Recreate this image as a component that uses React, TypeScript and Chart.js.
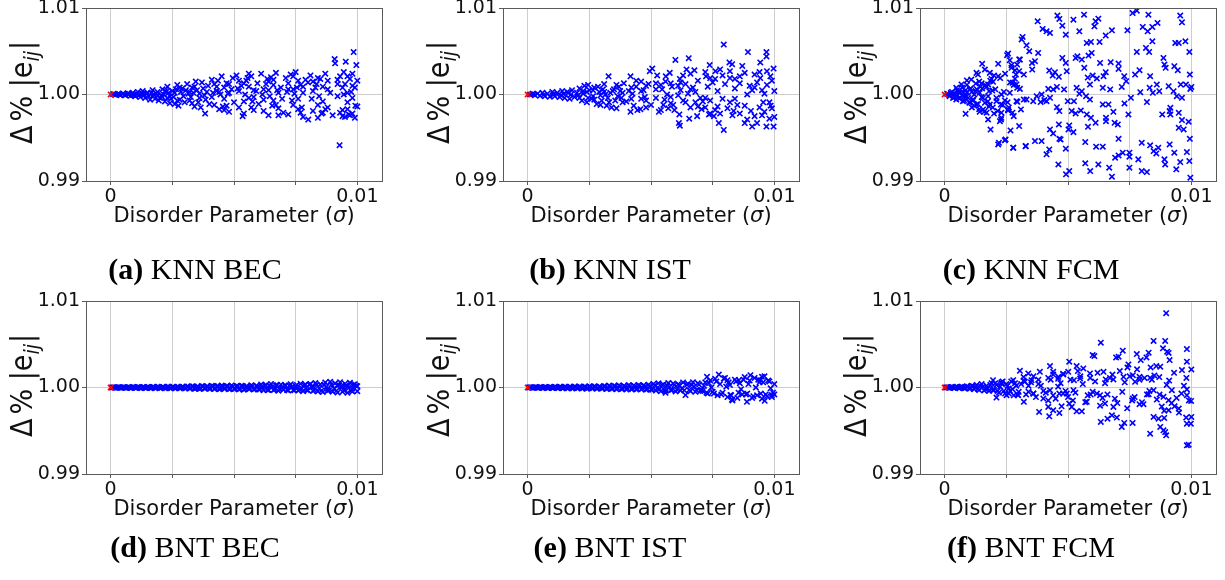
import React, { useEffect, useRef } from "react";
import { Chart, registerables } from "chart.js";
Chart.register(...registerables);

type Pt = [number, number];

// ---------- axis / tick content ----------
const xTickValues = [0, 0.0025, 0.005, 0.0075, 0.01];
const xTickLabels = ["0", "", "", "", "0.01"];
const yTickValues = [0.99, 1.0, 1.01];
const yTickLabels = ["0.99", "1.00", "1.01"];
const referencePoint: Pt = [0, 1.0];

// ---------- data (sigma, Δ% |e_ij|) ----------
const knnBEC: Pt[] = [
  [.0001,1.00005],[.0002,.99997],[.0003,1.0001],[.0004,.99992],[.0005,1.00012],[.0006,.9999],[.0007,1.00015],[.0008,.99985],[.0009,1.0002],[.001,.9998],
  [.00015,1.0],[.00035,1.00003],[.00055,.99996],[.00075,1.00005],[.00095,.99995],
  [.0011,1.0003],[.0012,.9997],[.0013,1.0004],[.0014,.9996],[.0015,1.0002],[.0016,.9994],[.0017,1.0005],[.0018,.9995],[.0019,1.0003],[.002,.9996],
  [.00125,1.0001],[.00155,.9998],[.00175,1.0],[.00195,.9993],[.00115,.9999],[.00145,1.0001],[.00185,1.0001],
  [.0021,1.0006],[.0022,.9992],[.0023,1.0009],[.0024,.999],[.0025,1.0004],[.0026,.9989],[.0027,1.0011],[.0028,.9994],[.0029,1.0007],[.003,.9991],
  [.00215,1.0],[.00235,1.0002],[.00255,.9997],[.00275,.9987],[.00285,1.0003],[.0024,.9998],
  [.0031,1.0012],[.0032,.9993],[.0033,1.0008],[.0034,.9986],[.0035,1.0005],[.0036,.9996],[.0037,1.0014],[.00383,.9978],[.0039,1.0003],[.004,.9989],
  [.00315,1.0001],[.00345,1.0015],[.00365,.9985],[.00395,1.001],
  [.0041,1.0017],[.0042,.9988],[.0043,1.0009],[.0044,.9983],[.0045,1.0021],[.0046,.9995],[.0047,1.0013],[.0048,.998],[.0049,1.0006],[.005,.9991],
  [.00415,1.0002],[.00435,1.0016],[.00455,.9986],[.00475,1.0001],[.00495,1.0019],
  [.0051,1.0022],[.0052,.9985],[.0053,1.001],[.0054,.9978],[.0055,1.0016],[.0056,.9996],[.0057,1.0021],[.0058,.9982],[.0059,1.0004],[.006,.9989],
  [.00515,1.0007],[.00535,.9975],[.00555,1.0019],[.00575,.9992],[.00595,1.0013],
  [.0061,1.0024],[.0062,.9981],[.0063,1.0012],[.0064,.9976],[.0065,1.002],[.0066,.9993],[.0067,1.0025],[.0068,.9984],[.0069,1.0008],[.007,.9979],
  [.00615,1.0],[.00635,1.0018],[.00655,.9987],[.00675,1.0005],[.00695,.9995],
  [.0071,1.0019],[.0072,.9977],[.0073,1.0023],[.0074,.9988],[.0075,1.0026],[.0076,.9983],[.0077,1.0011],[.0078,.9974],[.00801,.9971],[.0079,1.0017],
  [.00715,1.0003],[.00735,.9993],[.00755,1.0008],[.00775,.9985],[.008,1.0014],
  [.0081,1.0022],[.0082,.9981],[.0083,1.0008],[.0084,.9973],[.0085,1.0018],[.0086,.9992],[.0087,1.0024],[.0088,.9985],[.0089,1.0002],[.009,.9976],
  [.00815,.9995],[.00835,1.0012],[.00855,.9978],[.0091,1.0036],[.00908,1.0041],
  [.00928,.99414],[.00953,1.0038],[.00985,1.0049],[.00996,1.0034],[.0092,.9998],[.0093,1.0021],[.0094,.9975],[.0095,1.0012],[.0096,.9983],
  [.0097,1.0018],[.0098,.9978],[.0099,1.0008],[.01,.9986],[.00945,1.0026],[.00965,.9977],[.00975,1.0003],[.00992,.9987],[.0096,1.0002],[.0098,1.001],
  [.00105,1.0001],[.00135,.9999],[.00165,1.0002],[.00205,.9999],[.00225,1.0003],[.00245,.9995],[.00265,1.0006],[.00295,.9998],[.00305,1.0005],[.00325,.9997],
  [.00335,1.0002],[.00355,.9991],[.00375,1.0007],[.00385,.9994],[.0021,.9997],[.0023,.9996],[.0026,1.0002],[.0028,1.0008],[.0032,1.0003],[.0034,1.0009],
  [.0036,1.0001],[.0038,.9999],[.0022,1.0004],[.0027,.9993],[.0033,.999],[.0019,.9999],[.0017,.9998],[.0013,1.0001],[.0009,.99995],[.0007,1.00005],
  [.0041,.9997],[.0043,1.0004],[.0046,1.0008],[.0048,1.0012],[.0052,1.0004],[.0054,1.0013],[.0056,1.0009],[.0058,1.0005],[.0062,1.0006],[.0064,1.0015],
  [.0066,1.0011],[.0068,1.0002],[.0072,1.0013],[.0074,1.0006],[.0076,.9995],[.0078,1.0009],[.0082,1.0015],[.0084,.9988],[.0086,1.0009],[.0088,1.0016],
  [.0092,1.0012],[.0094,.9982],[.0096,1.0021],[.0098,.9996],[.00445,1.0],[.00545,1.0],[.00645,.9998],[.00745,1.0001],[.00845,.9998],[.00945,1.0],
  [.0047,.9987],[.0057,.9985],[.0067,.9988],[.0077,.9979],[.0087,.9983],[.0097,.9976],[.0099,.9973],[.0095,.9974],[.0093,.9979],
  [.0042,1.0012],[.0044,1.0003],[.0046,.9982],[.0048,1.0002],[.0052,1.0016],[.0054,.9992],[.0056,1.0024],[.0058,.9997],[.0062,.9994],[.0064,1.0005],
  [.0066,1.0017],[.0068,.9976],[.0072,1.0006],[.0074,1.0021],[.0076,1.0016],[.0078,1.0002],[.0082,1.0004],[.0084,1.0019],[.0086,.9979],[.0088,1.0006],
  [.0092,1.0017],[.0094,1.0008],[.0096,.9991],[.0098,1.0024],[.01,1.0016]
];

const knnIST: Pt[] = [
  [.0001,1.0],[.0002,1.0001],[.0003,.9999],[.0004,1.0001],[.0005,.99985],[.0006,1.0002],[.0007,.9998],[.0008,1.0001],[.0009,.99975],[.001,1.0003],
  [.0011,.9998],[.0012,1.0002],[.0013,.9997],[.0014,1.0004],[.0015,.9996],[.0016,1.0003],[.0017,.9995],[.0018,1.0005],[.0019,.9997],[.002,1.0002],
  [.00025,1.00002],[.00065,.99998],[.00105,1.0],[.00145,1.00005],[.00175,.99998],
  [.0021,1.0007],[.0022,.9993],[.0023,1.001],[.0024,.9991],[.0025,1.0005],[.0026,.9995],[.0027,1.0008],[.0028,.9989],[.0029,1.0003],[.003,.9993],
  [.00225,1.0001],[.00245,1.0011],[.00265,.9998],[.00285,1.0009],[.00295,.9988],
  [.0031,1.0012],[.0032,.9987],[.00328,1.0021],[.0034,.9985],[.0035,1.0006],[.0036,.9984],[.0037,1.0009],[.0038,.9996],[.0039,1.0013],[.004,.9992],
  [.00315,1.0],[.00345,1.0004],[.00365,.9998],[.00385,1.0002],
  [.00417,1.0021],[.00417,.998],[.0042,1.0008],[.0043,.9987],[.00445,.9982],[.0046,1.0015],[.00457,.9983],[.0047,1.0005],[.0048,.9993],[.0049,1.0012],
  [.005,.9988],[.00425,1.0001],[.00475,.9997],[.00505,1.003],[.00495,1.0027],
  [.00525,1.0022],[.00532,.998],[.00545,1.0006],[.00559,1.0015],[.00576,1.0025],[.0058,.999],[.00599,1.004],[.0059,.9988],[.00555,.9994],[.00565,1.0],
  [.00585,1.0009],[.00595,.9982],[.0052,.9996],[.0054,1.0011],[.0057,.9984],
  [.00613,.9967],[.00617,.9964],[.00617,1.0018],[.00644,1.0029],[.00653,1.0042],[.00676,1.0028],[.00687,.9975],[.0062,1.0005],[.0063,.9993],[.0064,1.0012],
  [.0066,.9985],[.0067,1.0008],[.0068,.9991],[.0069,1.0016],[.007,.9996],[.0065,1.0001],[.0061,.9999],
  [.00723,1.0021],[.00738,1.0034],[.00761,1.0027],[.00775,.9967],[.0078,1.0029],[.00795,.9959],[.00795,1.00577],[.0071,.9992],[.0072,.9985],[.0073,1.0009],
  [.0074,.9978],[.0075,1.0014],[.0076,.9982],[.0077,1.0004],[.0079,.9995],[.008,1.0012],
  [.00818,1.0037],[.00829,1.0035],[.0088,.9967],[.0087,1.0033],[.00893,1.0049],[.0081,.9984],[.0082,1.0019],[.0083,.9976],[.0084,1.0007],[.0085,.9988],
  [.0086,1.0013],[.0089,.9971],[.009,1.001],[.0091,.9963],[.0089,1.0],
  [.0093,.9967],[.00943,1.0037],[.00943,1.0019],[.00968,1.0049],[.00968,1.0044],[.00968,.9963],[.00984,1.0021],[.00997,1.003],[.00997,.9963],[.01,.9974],
  [.0092,1.0008],[.0094,.9985],[.0095,1.0005],[.0096,.998],[.0097,1.0011],[.0098,.9991],[.0099,1.0016],[.01,1.0004],[.00985,.9987],[.0092,1.0023],
  [.00105,1.0001],[.00135,.9999],[.00165,1.0002],[.00205,.9999],[.00225,1.0004],[.00245,.9996],[.00265,1.0005],[.00295,.9999],[.00305,1.0006],[.00325,.9996],
  [.00335,1.0002],[.00355,.9993],[.00375,1.0004],[.00385,.9991],[.0021,.9996],[.0024,1.0003],[.0027,.9994],[.0031,1.0003],[.0033,.9991],[.0036,1.0011],
  [.0041,1.0004],[.0044,1.0009],[.0046,.9995],[.0048,1.001],[.0052,1.0006],[.0055,.9988],[.0058,1.0013],[.0061,1.001],[.0063,1.0022],[.0066,1.0006],
  [.0069,.9986],[.0072,.9996],[.0074,1.0019],[.0077,.9986],[.0079,1.0022],[.0082,.9991],[.0084,1.0018],[.0086,.9978],[.0088,1.0025],[.0091,1.0005],
  [.0093,1.0014],[.0095,.9976],[.0097,1.0027],[.0099,.9984],[.00615,.9977],[.00655,.9972],[.00705,.9983],[.00735,.9977],[.00755,.9975],[.00835,.9981],
  [.00905,.9981],[.00955,.9991],
  [.0042,.9995],[.0044,1.0016],[.0046,1.0004],[.0048,.9985],[.0052,1.0013],[.0054,.9982],[.0056,1.0021],[.0058,.9997],[.0062,1.0014],[.0064,.9991],
  [.0066,1.0024],[.0068,1.0003],[.0072,1.0026],[.0074,.9993],[.0076,1.0018],[.0078,.9978],[.0082,1.0027],[.0084,.9995],[.0086,1.0021],[.0088,.9987],
  [.0092,.9975],[.0094,1.0026],[.0096,1.0001],[.0098,.9972]
];

const knnFCM: Pt[] = [
  [.0001,1.0001],[.0002,.9999],[.0003,1.0003],[.0004,.9997],[.0005,1.0005],[.0006,.9995],[.0007,1.0008],[.0008,.9993],[.0009,1.0011],[.001,.9991],
  [.0004,1.0001],[.0006,1.0002],[.0008,.9998],[.0011,1.0003],[.0012,.9987],[.0013,1.0006],[.0014,.9983],[.0015,1.0013],[.0016,.998],[.0017,1.0009],
  [.0018,.9986],[.0019,1.0018],[.002,.9978],
  [.0005,1.0],[.0007,.9999],[.0009,1.0002],[.0012,1.0],[.0015,.9997],[.0018,1.0004],[.0021,.9996],[.0024,1.0003],[.0026,.9985],[.0028,1.0011],
  [.00015,1.0],[.00025,1.0002],[.00045,.9998],[.00055,1.0003],[.00085,1.0005],[.00095,.9996],[.00105,1.0007],[.00115,.9993],[.00125,1.0004],[.00135,.9989],
  [.00145,1.0009],[.00155,.9996],[.00165,1.0011],[.00175,.9992],[.00185,1.0016],[.00195,.9985],[.00205,1.0006],[.00215,.9981],[.00225,1.0019],[.00235,.9988],
  [.00245,1.0024],[.00255,.9991],[.00265,1.0014],[.00275,.9979],[.00285,1.0028],[.0011,.9985],[.0014,1.0015],[.0017,.9979],[.002,1.0022],[.0023,.9979],
  [.00085,.99777],[.00176,.99711],[.00186,.99595],[.00228,.99711],[.0022,.99441],[.00244,.9947],[.00278,.99383],[.00328,.99403],[.00253,1.00454],[.00217,1.00355],
  [.00183,1.0025],[.00163,1.00289],[.00135,1.00231],[.0009,1.00162],[.00068,1.00116],[.00047,1.00077],[.00126,1.00127],[.00152,1.00069],[.00176,1.00116],[.00196,1.00146],
  [.00217,1.00212],[.00193,1.00046],[.00129,.99884],[.00156,.99827],[.00142,.998],[.00102,.99904],[.00074,.99923],[.00047,.99942],[.00034,.99961],[.0002,.9998],
  [.0021,.99923],[.00228,.99884],[.00244,.99931],[.0023,1.0],[.00264,1.00019],[.00294,1.00077],[.00289,1.00231],[.00271,1.00339],[.00302,1.00405],[.00312,1.00636],
  [.00291,1.00116],[.00295,.99915],[.00257,.99815],[.00267,.99584],[.00183,.99884],[.00163,.99904],[.00115,.99942],[.00088,.9998],[.0006,1.00019],[.00102,1.00058],
  [.00074,1.00031],[.00142,1.00019],[.00176,.9998],[.00152,1.00355],[.00129,1.0025],[.00108,1.00173],
  [.00377,1.00846],[.00457,1.00912],[.00465,1.00873],[.00477,1.00796],[.00491,1.00692],[.00427,1.00712],[.00413,1.00731],[.00397,1.00758],[.00522,1.00865],[.00546,1.00731],
  [.00565,1.00923],[.00612,1.00846],[.00607,1.00788],[.00623,1.00877],[.00576,1.00596],[.00593,1.00608],[.00628,1.00608],[.00653,1.00681],[.00678,1.00742],[.00741,1.00742],
  [.00762,1.00942],[.00779,1.00969],[.00826,1.00923],[.00803,1.00781],[.00823,1.00731],[.00842,1.00781],[.00863,1.00827],[.00842,1.00615],[.00816,1.00538],[.00829,1.00492],
  [.00779,1.00492],[.00935,1.00596],[.00949,1.00596],[.00976,1.00615],[.00955,1.00912],[.00962,1.00835],[.00992,1.00492],[.00887,1.00423],[.00891,1.00346],[.00896,1.00308],
  [.00833,1.00212],[.0086,1.00115],[.0087,1.00038],[.00831,1.00077],[.00844,1.00019],[.00793,1.00027],[.0079,1.00281],[.00772,1.00231],[.00728,1.00212],[.00736,1.00154],
  [.00718,1.00088],[.00705,1.00296],[.00705,1.00358],[.00673,1.00373],[.00653,1.00258],[.00644,1.00212],[.00617,1.00185],[.006,1.00219],[.0058,1.00196],[.00589,1.00115],
  [.00573,.99981],[.00556,1.00038],[.00535,1.00077],[.00531,1.00423],[.00538,1.00442],[.00556,1.00404],[.00566,1.00308],[.00583,1.0045],[.00596,1.00481],[.0063,1.00365],
  [.00477,1.00423],[.00491,1.00365],[.00495,1.00269],[.00463,1.00204],[.00447,1.00258],[.00424,1.00277],[.00438,1.00219],[.00455,1.00088],[.0044,1.00058],[.00413,.99923],
  [.00427,.99962],[.00393,1.0],[.00404,.99935],[.00373,.99981],[.00359,.99923],[.00332,.99942],[.00321,.99942],[.00316,1.00665],[.00332,1.00569],[.00343,1.005],
  [.00305,1.00404],[.00354,1.00365],[.00379,1.00481],[.00366,1.00385],[.00355,1.00288],[.00321,1.00231],[.00302,1.00269],[.00285,1.00181],[.00275,1.00135],[.00257,1.00473],
  [.00264,1.00396],[.00271,1.00308],[.00294,1.00346],[.00305,1.00065],[.00291,.99923],[.00309,.99827],[.00302,.99635],[.0028,.9975],[.00257,.99827],[.0023,.99731],
  [.00224,.99692],[.00217,.99423],[.00247,.99481],[.00278,.99385],[.00329,.99404],[.00366,.99462],[.00393,.99462],[.00413,.99308],[.00424,.99365],[.00461,.99192],
  [.00492,.99077],[.00505,.99115],[.00491,.99373],[.00465,.99488],[.0047,.99481],[.00505,.99642],[.00502,.99596],[.00522,.99565],[.00463,.99654],[.00427,.99596],
  [.0044,.9955],[.00465,.99808],[.00455,.99854],[.00499,.99923],[.00515,.99808],[.00531,.99781],[.00552,.99815],[.00576,.99769],[.00593,.99731],[.00612,.99673],
  [.00581,.99627],[.0057,.9945],[.0057,.99204],[.0059,.99115],[.00623,.99192],[.00614,.99396],[.00641,.99396],[.00654,.99731],[.00654,.99692],[.00667,.99154],
  [.00678,.9905],[.00691,.99269],[.00705,.99296],[.00722,.99327],[.00705,.99488],[.00702,.99654],[.00689,.99673],[.00664,.99885],[.00684,.998],[.00729,.99896],
  [.00745,.99769],[.00749,.99327],[.00749,.99281],[.00749,.99154],[.00785,.9925],[.00799,.99115],[.0082,.99104],[.00799,.99442],[.00833,.99412],[.00847,.99346],
  [.00858,.99319],[.00866,.99385],[.00891,.9925],[.00894,.99192],[.00912,.99423],[.00931,.99327],[.00939,.99135],[.00955,.99219],[.00982,.99335],[.00992,.99231],
  [.00996,.99038],[.00915,.99846],[.00915,.99769],[.00912,.99808],[.00949,.99788],[.00962,.99704],[.00949,.99615],[.00969,.99596],[.00994,.99488],[.00989,.99685],
  [.00882,.99769],[.00962,.99962],[.00996,1.00065],[.01,1.00088],[.00978,1.00115],[.00957,1.00115],[.00941,.99981],[.00994,1.00231],[.00931,1.00327],[.00945,1.00281],
  [.00928,1.00038],[.00908,1.00096],[.0082,.99912],[.00755,.99962],[.00641,.99885],[.00671,1.00058],[.00641,1.00077],[.00589,.99942],[.00546,1.00008],[.00484,1.00058],
  [.00524,.99923],[.00389,.99912],[.0042,1.00065]
];

const bntBEC: Pt[] = [
  [.0001,1.00002],[.0002,.99998],[.0003,1.00003],[.0004,.99997],[.0005,1.00004],[.0006,.99996],[.0007,1.00003],[.0008,.99995],[.0009,1.00005],[.001,.99996],
  [.0011,1.00006],[.0012,.99994],[.0013,1.00004],[.0014,.99993],[.0015,1.00007],[.0016,.99995],[.0017,1.00005],[.0018,.99992],[.0019,1.00008],[.002,.99994],
  [.0021,1.00006],[.0022,.99991],[.0023,1.00009],[.0024,.99993],[.0025,1.00007],[.0026,.9999],[.0027,1.0001],[.0028,.99992],[.0029,1.00008],[.003,.99991],
  [.0031,1.00012],[.0032,.99988],[.0033,1.00015],[.0034,.99986],[.0035,1.0001],[.0036,.99984],[.0037,1.00018],[.0038,.99989],[.0039,1.00014],[.004,.99985],
  [.0041,1.0002],[.0042,.99983],[.0043,1.00012],[.0044,.9998],[.0045,1.00022],[.0046,.99986],[.0047,1.00016],[.0048,.99981],[.0049,1.00024],[.005,.99984],
  [.0051,1.00018],[.0052,.99978],[.0053,1.00021],[.0054,.99975],[.0055,1.00015],[.0056,.99982],[.0057,1.00027],[.0058,.99976],[.0059,1.00019],[.006,.9998],
  [.0035,.99998],[.0045,1.00002],[.0055,.99999],
  [.0061,1.00035],[.0062,.99968],[.0063,1.00028],[.0064,.99972],[.0065,1.00041],[.0066,.9997],[.0067,1.00025],[.0068,.99962],[.0069,1.00032],[.007,.99975],
  [.0071,1.00022],[.0072,.99966],[.0073,1.00038],[.0074,.99971],[.0075,1.00018],[.0076,.99964],[.0077,1.00043],[.0078,.99958],[.0079,1.00034],[.008,.99968],
  [.00615,1.0],[.00655,1.00008],[.00695,.99994],[.00735,1.00005],[.00775,.9999],
  [.0081,1.0004],[.0082,.9996],[.0083,1.00052],[.0084,.99955],[.0085,1.00036],[.0086,.99948],[.0087,1.00058],[.0088,.99962],[.0089,1.00065],[.009,.99952],
  [.0091,1.00048],[.0092,.99942],[.0093,1.00062],[.0094,.9995],[.0095,1.00044],[.0096,.99938],[.0097,1.00055],[.0098,.99954],[.0099,1.00038],[.01,.99958],
  [.00815,1.00005],[.00845,.99992],[.00875,1.0001],[.00905,.99988],[.00935,1.00015],[.00965,.99995],[.00995,1.0002],[.0092,1.0002],[.0096,1.0001],
  [.00005,.99999],[.00015,1.00001],[.00025,.99999],[.00035,1.00002],[.00045,.99998],[.00055,1.00002],[.00065,.99997],[.00075,1.00004],[.00085,.99997],[.00095,1.00003],
  [.00105,.99996],[.00115,1.00004],[.00125,.99995],[.00135,1.00006],[.00145,.99996],[.00155,1.00003],[.00165,.99994],[.00175,1.00006],[.00185,.99996],[.00195,1.00005],
  [.00205,.99994],[.00215,1.00004],[.00225,.99995],[.00235,1.00008],[.00245,.99992],[.00255,1.00005],[.00265,.99993],[.00275,1.00007],[.00285,.99995],[.00295,1.00006],
  [.00305,.9999],[.00315,1.00009],[.00325,.99993],[.00335,1.00011],[.00345,.99989],[.00355,1.00008],[.00365,.99992],[.00375,1.00012],[.00385,.99991],[.00395,1.00007],
  [.00405,.99988],[.00415,1.00013],[.00425,.9999],[.00435,1.00016],[.00445,.99986],[.00455,1.00011],[.00465,.9999],[.00475,1.00014],[.00485,.99985],[.00495,1.00009],
  [.00505,.99987],[.00515,1.00013],[.00525,.99985],[.00535,1.00017],[.00545,.99983],[.00555,1.0001],[.00565,.99988],[.00575,1.00014],[.00585,.99984],[.00595,1.00012],
  [.00605,.99978],[.00625,1.00022],[.00635,.99975],[.00645,1.00018],[.00665,.99978],[.00675,1.00028],[.00685,.9998],[.00705,1.00024],[.00715,.99972],[.00725,1.0002],
  [.00745,.99968],[.00755,1.0003],[.00765,.99978],[.00785,1.00026],[.00795,.99972],[.00805,1.00032],
  [.00825,.9997],[.00835,1.0003],[.00855,.99966],[.00865,1.00028],[.00885,.99968],[.00895,1.00034],[.00915,.99962],[.00925,1.0003],[.00945,.99968],[.00955,1.00026],
  [.00975,.99965],[.00985,1.00033],[.0082,1.00012],[.0088,.99985],[.0094,1.00008],[.0098,.99988],[.01,1.00015]
];

const bntIST: Pt[] = [
  [.0001,1.00003],[.0002,.99997],[.0003,1.00004],[.0004,.99996],[.0005,1.00005],[.0006,.99995],[.0007,1.00006],[.0008,.99994],[.0009,1.00007],[.001,.99993],
  [.0011,1.00008],[.0012,.99993],[.0013,1.00009],[.0014,.99991],[.0015,1.0001],[.0016,.9999],[.0017,1.00008],[.0018,.99989],[.0019,1.00011],[.002,.99991],
  [.0021,1.00012],[.0022,.99988],[.0023,1.0001],[.0024,.99987],[.0025,1.00013],[.0026,.9999],[.0027,1.00014],[.0028,.99986],[.0029,1.00012],[.003,.99988],
  [.0031,1.00018],[.0032,.99982],[.0033,1.00022],[.0034,.99985],[.0035,1.0002],[.0036,.99979],[.0037,1.00025],[.0038,.99983],[.0039,1.00019],[.004,.99978],
  [.0041,1.00028],[.0042,.99981],[.0043,1.00024],[.0044,.99976],[.0045,1.0003],[.0046,.99979],[.0047,1.00027],[.0048,.99974],[.0049,1.00032],[.005,.99977],
  [.0051,1.00041],[.0052,.99965],[.0053,1.00048],[.0054,.99958],[.0055,1.00036],[.0056,.99962],[.0057,1.00052],[.0058,.9997],[.0059,1.00045],[.006,.99955],
  [.0061,1.00038],[.0062,.99964],[.0063,1.00058],[.0064,.99912],[.0065,1.00043],[.0066,.99958],[.0067,1.00062],[.0068,.9995],[.0069,1.00048],[.007,.99961],
  [.00525,.99995],[.00575,1.00008],[.00625,.9999],[.00675,1.0001],[.00559,.99938],
  [.00727,1.00123],[.00775,1.0015],[.00795,1.00104],[.0081,1.00085],[.00856,1.00085],[.00889,.99835],[.00903,1.00142],[.0095,1.00123],[.00943,1.00085],[.00961,.99846],
  [.0099,.99912],[.00829,.99862],[.00822,.99912],
  [.0071,.9996],[.0072,1.0006],[.0073,.9993],[.0074,1.0008],[.0075,.9995],[.0076,1.001],[.0077,.9991],[.0078,1.0004],[.0079,.9994],[.008,1.0011],
  [.0081,.9989],[.0082,1.0003],[.0083,.9985],[.0084,1.0009],[.0085,.9988],[.0086,1.0005],[.0087,.9992],[.0088,1.0012],[.0089,.9993],[.009,1.0008],
  [.0091,.9988],[.0092,1.0011],[.0093,.9991],[.0094,1.0006],[.0095,.9987],[.0096,1.0013],[.0097,.999],[.0098,1.0007],[.0099,.9989],[.01,1.0004],
  [.00745,1.0],[.00805,1.0001],[.00865,.9998],[.00925,1.0],[.00985,.9999],[.01,.9992],
  [.00005,.99999],[.00015,1.00001],[.00025,.99999],[.00035,1.00002],[.00045,.99998],[.00055,1.00002],[.00065,.99997],[.00075,1.00003],[.00085,.99997],[.00095,1.00004],
  [.00105,.99996],[.00115,1.00004],[.00125,.99995],[.00135,1.00005],[.00145,.99995],[.00155,1.00006],[.00165,.99994],[.00175,1.00005],[.00185,.99995],[.00195,1.00006],
  [.00205,.99993],[.00215,1.00006],[.00225,.99994],[.00235,1.00008],[.00245,.99993],[.00255,1.00007],[.00265,.99992],[.00275,1.00008],[.00285,.99994],[.00295,1.00007],
  [.00305,.9999],[.00315,1.00012],[.00325,.99992],[.00335,1.0001],[.00345,.99988],[.00355,1.00013],[.00365,.9999],[.00375,1.00011],[.00385,.99986],[.00395,1.0001],
  [.00405,.99988],[.00415,1.00015],[.00425,.99987],[.00435,1.00012],[.00445,.99985],[.00455,1.00018],[.00465,.99988],[.00475,1.00014],[.00485,.99984],[.00495,1.00016],
  [.00505,.99975],[.00515,1.00025],[.00535,.9998],[.00545,1.00028],[.00555,.99972],[.00565,1.00022],[.00585,.9997],[.00595,1.0003],[.00605,.99975],[.00615,1.00025],
  [.00635,.99968],[.00645,1.00032],[.00655,.99972],[.00665,1.00028],[.00685,.9997],[.00695,1.00034],[.00705,.9997],[.00715,1.0002],
  [.00725,.9994],[.00735,1.0005],[.00755,.9993],[.00765,1.0007],[.00785,.9992],[.00815,1.0006],[.00825,.9991],[.00845,1.0007],[.00855,.9994],[.00875,1.0009],
  [.00885,.9992],[.00895,1.0004],[.00915,.999],[.00935,1.0009],[.00945,.9993],[.00955,1.0006],[.00965,.9992],[.00975,1.0008],[.00995,.9994]
];

const bntFCM: Pt[] = [
  [.0001,1.00002],[.0002,.99997],[.0003,1.00006],[.0004,.99994],[.0005,1.00008],[.0006,.99992],[.0007,1.0001],[.0008,.9999],[.0009,1.00013],[.001,.99986],
  [.0011,1.0002],[.0012,.9998],[.0013,1.0003],[.0014,.9997],[.0015,1.0004],[.0016,.99965],[.0017,1.0002],[.0018,.9996],[.0019,1.0005],[.002,.9997],
  [.0021,1.0003],[.0022,.9994],[.0023,1.0006],[.0024,.9996],[.0025,1.0004],[.0026,.9993],[.0027,1.0007],[.0028,.9991],[.0029,1.0002],[.003,.9995],
  [.00125,1.0],[.00175,.9999],[.00225,1.0001],[.00275,.9998],[.00075,1.0],[.00155,1.0001],
  [.00005,1.0],[.00015,.99999],[.00025,1.00003],[.00035,.99997],[.00045,1.00005],[.00055,.99996],[.00065,1.00007],[.00085,.99993],[.00095,1.0001],[.00105,.99992],
  [.00115,1.00015],[.00135,.99985],[.00145,1.00018],[.00165,.9998],[.00185,1.0003],[.00195,.9997],[.00205,1.0005],[.00215,.9996],[.00235,1.0007],[.00245,.9993],
  [.00255,1.0002],[.00265,.9996],[.00285,1.0005],[.00295,.9992],[.0032,1.0008],[.0034,.9995],[.0038,1.0004],[.0042,.9985],[.0046,1.001],[.0048,.9993],
  [.00898,1.00859],[.00847,1.00538],[.00894,1.00538],[.00885,1.00453],[.00902,1.00414],[.00912,1.00317],[.00908,1.004],[.00982,1.00445],[.00982,1.00298],[.00962,1.00201],
  [.01,1.00209],[.00633,1.00518],[.006,1.00375],[.00607,1.00364],[.00505,1.00298],[.00535,1.00248],[.00562,1.0022],[.00501,1.00182],[.00481,1.00151],[.00695,1.00348],
  [.00722,1.00426],[.00705,1.00356],[.00741,1.00232],[.00745,1.00267],[.00779,1.00387],[.00827,1.00402],[.00818,1.00348],[.00795,1.00317],[.00835,1.00232],[.00858,1.00248],
  [.00874,1.0024],[.00833,1.00112],[.0079,1.00124],[.00772,1.00066],[.00763,1.00143],[.00684,1.00093],[.00725,1.00124],[.00644,1.00182],[.00653,1.00093],[.00589,1.00162],
  [.00549,1.00104],[.00524,1.00085],[.00427,1.00248],[.00386,1.00182],[.0044,1.00182],[.00461,1.00124],[.00352,1.00085],[.00305,1.00193],[.00339,1.00162],[.00325,1.00066],
  [.00278,1.00085],
  [.00982,.99331],[.00989,.99339],[.00898,.99447],[.00894,.99485],[.00887,.99505],[.00833,.99466],[.00874,.99544],[.00847,.9966],[.00867,.9964],[.0089,.99648],
  [.00908,.99737],[.00932,.99783],[.00949,.99756],[.00979,.99652],[.00982,.99582],[.01,.9966],[.00998,.99582],[.00982,.99911],[.00999,.99845],[.00982,.99977],
  [.00921,.99969],[.00908,.99853],[.00887,.99892],[.00871,.99919],[.00847,.99969],[.00827,.99923],[.00806,.99807],[.0079,.99807],[.00763,.99872],[.00762,.9959],
  [.00718,.99544],[.00728,.9959],[.00698,.99652],[.00678,.99679],[.00684,.99776],[.0066,.9964],[.00633,.99602],[.0065,.99814],[.0063,.99911],[.00592,.99919],
  [.00617,.9993],[.00576,.99834],[.00556,.99725],[.00535,.99725],[.00515,.99776],[.00505,.99814],[.00474,.99783],[.0044,.99737],[.00465,.99706],[.00424,.99667],
  [.00465,.9993],[.00495,.9993],[.00522,.99969],[.00427,.99969],[.00383,.99718],[.0042,.99776],[.004,.99872],[.00359,.9993],[.00321,.99834],[.00298,.99911],
  [.00251,.99911],[.0021,.99884],[.0026,.99988],[.0023,1.00046],[.00196,1.00085],
  [.0031,1.0004],[.0033,.9992],[.0035,1.0006],[.0037,.9989],[.0039,1.0002],[.0041,.9994],[.0043,1.0009],[.0045,.9987],[.0047,1.0005],[.0049,.9996],
  [.0036,1.0013],[.0044,1.0015],[.0052,.9985],[.0055,1.0013],[.0058,.9991],[.0061,1.0007],[.0064,.9988],[.0067,1.0011],[.007,.9982],[.0073,1.0006],
  [.0076,.9985],[.0079,1.0009],[.0082,.9992],[.0085,1.0014],[.0088,.9978],[.0091,1.0008],[.0094,.9988],[.0097,1.0002],
  [.0032,1.0012],[.0034,1.0002],[.0036,.9993],[.0038,1.0009],[.004,.9996],[.0042,1.0011],[.0044,.9991],[.0046,1.0001],[.0048,1.0016],[.005,.9989],
  [.0051,1.0009],[.0053,.9994],[.0054,1.0019],[.0056,1.0004],[.0057,.9983],[.0059,1.0011],[.006,.9995],[.0062,1.0017],[.0063,.9979],[.0065,1.0005],
  [.0066,.9992],[.0068,1.0015],[.0069,.9987],[.0071,1.0019],[.0072,.9995],[.0074,.9976],[.0075,1.0013],[.0077,.9989],[.0078,1.0021],[.008,.9983],
  [.0081,1.0011],[.0083,.9996],[.0084,1.0009],[.0086,.9986],[.0087,1.0012],[.0089,.9973],[.009,1.0003],[.0092,.9982],[.0093,1.0017],[.0095,.9971],
  [.0096,.9993],[.0098,1.0011],[.0099,.9985]
];

// ---------- layout & style ----------
const PANELS = [
  { data: knnBEC, tag: "(a)", name: "KNN BEC", col: 0, row: 0 },
  { data: knnIST, tag: "(b)", name: "KNN IST", col: 1, row: 0 },
  { data: knnFCM, tag: "(c)", name: "KNN FCM", col: 2, row: 0 },
  { data: bntBEC, tag: "(d)", name: "BNT BEC", col: 0, row: 1 },
  { data: bntIST, tag: "(e)", name: "BNT IST", col: 1, row: 1 },
  { data: bntFCM, tag: "(f)", name: "BNT FCM", col: 2, row: 1 },
];
const COL_PLOT_LEFT = [86, 503, 920];
const ROW_PLOT_TOP = [8, 301];
const CAPTION_CENTER = [195, 610, 1031];
const CAPTION_BASELINE = [279, 557];

const Y_AXIS_W = 86;
const PLOT_W = 296;
const PAD_R = 20;
const PAD_T = 20;
const PLOT_H = 173;
const X_AXIS_H = 61;
const CW = Y_AXIS_W + PLOT_W + PAD_R;
const CH = PAD_T + PLOT_H + X_AXIS_H;

const SANS = "'DejaVu Sans'";
const TEXT = "#111";
const FRAME = "#5a5a5a";
const GRID = "#cdcdcd";
const BLUE = "#0000ff";
const RED = "#ff0000";

type Seg = { t: string; f: string; dy?: number; gap?: number };
function drawSegs(ctx: CanvasRenderingContext2D, segs: Seg[], cx: number, y: number) {
  let total = 0;
  const widths = segs.map((s) => {
    ctx.font = s.f;
    const w = ctx.measureText(s.t).width + (s.gap || 0);
    total += w;
    return w;
  });
  let x = cx - total / 2;
  segs.forEach((s, i) => {
    ctx.font = s.f;
    ctx.fillText(s.t, x, y + (s.dy || 0));
    x += widths[i];
  });
}

const decorPlugin = {
  id: "decor",
  afterDraw(chart: any) {
    const { ctx, chartArea: a } = chart;
    ctx.save();
    ctx.strokeStyle = FRAME;
    ctx.lineWidth = 1;
    ctx.strokeRect(Math.round(a.left) + 0.5, Math.round(a.top) + 0.5, Math.round(a.right - a.left), Math.round(a.bottom - a.top));
    ctx.fillStyle = TEXT;
    ctx.textAlign = "left";
    ctx.textBaseline = "alphabetic";
    drawSegs(
      ctx,
      [
        { t: "Disorder Parameter (", f: `21px ${SANS}` },
        { t: "σ", f: `italic 21px ${SANS}` },
        { t: ")", f: `21px ${SANS}` },
      ],
      (a.left + a.right) / 2,
      a.bottom + 41
    );
    ctx.translate(a.left - 54, (a.top + a.bottom) / 2 - 2);
    ctx.rotate(-Math.PI / 2);
    ctx.scale(1, 1.1);
    drawSegs(
      ctx,
      [
        { t: "Δ", f: `27px ${SANS}`, gap: 4 },
        { t: "% |e", f: `27px ${SANS}` },
        { t: "ij", f: `italic 19px ${SANS}`, dy: 6, gap: 1 },
        { t: "|", f: `27px ${SANS}` },
      ],
      0,
      0
    );
    ctx.restore();
  },
};

function Panel({ data, left, top }: { data: Pt[]; left: number; top: number }) {
  const ref = useRef<HTMLCanvasElement>(null);
  useEffect(() => {
    const chart = new Chart(ref.current!, {
      type: "scatter",
      data: {
        datasets: [
          {
            data: [{ x: referencePoint[0], y: referencePoint[1] }],
            pointStyle: "crossRot",
            pointRadius: 3.8,
            pointHoverRadius: 3.8,
            borderColor: RED,
            backgroundColor: RED,
            pointBorderWidth: 1.6,
          },
          {
            data: data.map(([x, y]) => ({ x, y })),
            pointStyle: "crossRot",
            pointRadius: 3.8,
            pointHoverRadius: 3.8,
            borderColor: BLUE,
            backgroundColor: BLUE,
            pointBorderWidth: 1.6,
          },
        ],
      },
      options: {
        animation: false,
        responsive: false,
        events: [],
        layout: { padding: { left: 0, top: PAD_T, right: PAD_R, bottom: 0 } },
        plugins: { legend: { display: false }, tooltip: { enabled: false } },
        scales: {
          x: {
            type: "linear",
            min: -0.001,
            max: 0.011,
            afterBuildTicks: (s: any) => {
              s.ticks = xTickValues.map((v) => ({ value: v }));
            },
            afterFit: (s: any) => {
              s.height = X_AXIS_H;
            },
            ticks: {
              autoSkip: false,
              maxRotation: 0,
              padding: 1,
              color: TEXT,
              font: { family: "DejaVu Sans", size: 19 },
              callback: (_v: any, i: number) => xTickLabels[i],
            },
            grid: { color: GRID, lineWidth: 1, tickColor: FRAME, tickLength: 4 },
            border: { display: false },
          },
          y: {
            type: "linear",
            min: 0.99,
            max: 1.01,
            afterBuildTicks: (s: any) => {
              s.ticks = yTickValues.map((v) => ({ value: v }));
            },
            afterFit: (s: any) => {
              s.width = Y_AXIS_W;
            },
            ticks: {
              autoSkip: false,
              padding: 2,
              color: TEXT,
              font: { family: "DejaVu Sans", size: 19 },
              callback: (_v: any, i: number) => yTickLabels[i],
            },
            grid: { color: GRID, lineWidth: 1, tickColor: FRAME, tickLength: 4 },
            border: { display: false },
          },
        },
      },
      plugins: [decorPlugin],
    } as any);
    return () => chart.destroy();
  }, [data]);
  return (
    <canvas
      ref={ref}
      width={CW}
      height={CH}
      style={{ position: "absolute", left, top, width: CW, height: CH }}
    />
  );
}

export default function App() {
  return (
    <div
      style={{
        position: "fixed",
        left: 0,
        top: 0,
        width: 1225,
        height: 580,
        overflow: "hidden",
        background: "#fff",
      }}
    >
      {PANELS.map((p) => (
        <Panel
          key={p.tag}
          data={p.data}
          left={COL_PLOT_LEFT[p.col] - Y_AXIS_W}
          top={ROW_PLOT_TOP[p.row] - PAD_T}
        />
      ))}
      {PANELS.map((p) => (
        <div
          key={"cap" + p.tag}
          style={{
            position: "absolute",
            left: CAPTION_CENTER[p.col],
            top: CAPTION_BASELINE[p.row] - 25,
            transform: "translateX(-50%)",
            fontFamily: "'Liberation Serif'",
            fontSize: 30,
            lineHeight: "30px",
            whiteSpace: "nowrap",
            color: "#000",
          }}
        >
          <b>{p.tag}</b> {p.name}
        </div>
      ))}
    </div>
  );
}
